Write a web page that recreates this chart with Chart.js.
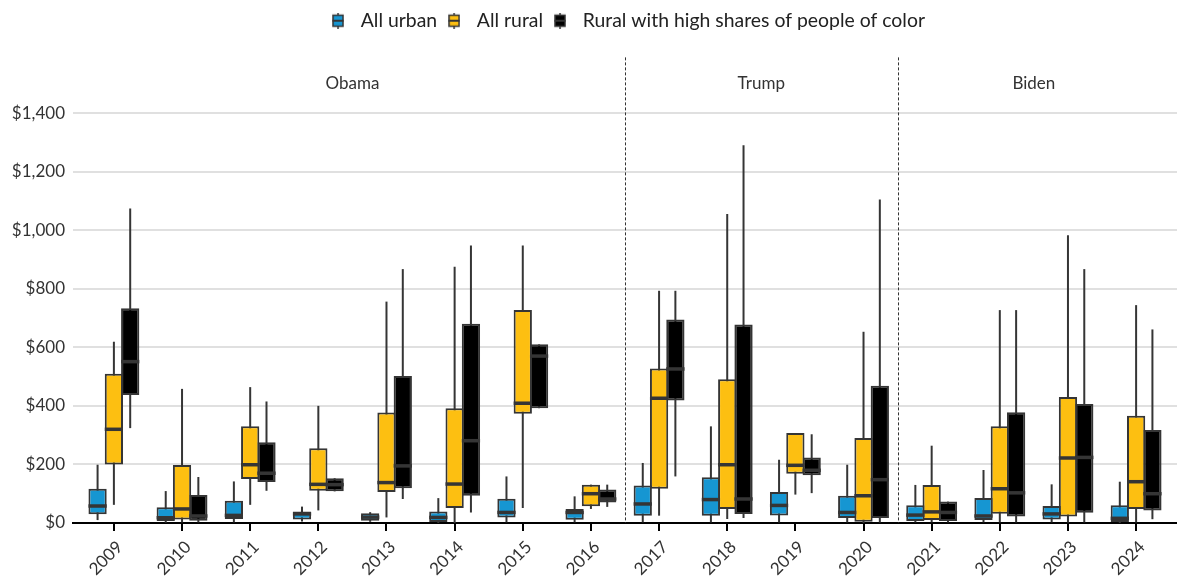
<!DOCTYPE html>
<html>
<head>
<meta charset="utf-8">
<script src="https://cdn.jsdelivr.net/npm/chart.js@4.4.1/dist/chart.umd.min.js"></script>
<style>
  html, body { margin: 0; padding: 0; background: #ffffff; }
  #wrap { width: 1177px; height: 581px; position: relative; }
</style>
</head>
<body>
<div id="wrap"><canvas id="chart"></canvas></div>
<script>
// Fiscal years on the x axis
const years = ['2009','2010','2011','2012','2013','2014','2015','2016',
               '2017','2018','2019','2020','2021','2022','2023','2024'];

const seriesNames = ['All urban', 'All rural', 'Rural with high shares of people of color'];

// Box-plot statistics per year (dollars)
const urbanMin = [10, 1, 2, 5, 4, 0, 2, 2, 2, 2, 2, 2, 2, 2, 2, 0];
const urbanQ1  = [30, 7, 14, 12, 8, 3, 19, 11, 25, 25, 26, 17, 7, 10, 12, 3];
const urbanMed = [58, 18, 26, 31, 20, 19, 36, 36, 65, 80, 60, 36, 27, 24, 31, 16];
const urbanQ3  = [117, 54, 76, 39, 33, 39, 83, 48, 128, 156, 106, 93, 61, 85, 58, 61];
const urbanMax = [199, 109, 142, 56, 37, 85, 159, 91, 205, 330, 216, 199, 130, 181, 132, 141];

const ruralMin = [62, 2, 62, 43, 19, 0, 51, 48, 25, 14, 97, 0, 2, 2, 2, 2];
const ruralQ1  = [200, 12, 150, 110, 106, 51, 373, 57, 117, 48, 168, 4, 10, 32, 22, 48];
const ruralMed = [320, 48, 199, 132, 138, 133, 409, 100, 426, 199, 197, 93, 38, 117, 222, 141];
const ruralQ3  = [510, 198, 330, 255, 377, 392, 727, 131, 528, 491, 307, 290, 130, 330, 430, 366];
const ruralMax = [619, 458, 464, 400, 756, 875, 948, 131, 793, 1055, 307, 653, 264, 727, 983, 744];

const pocMin = [324, 2, 110, 108, 82, 36, 392, 55, 159, 17, 102, 2, 2, 2, 2, 13];
const pocQ1  = [437, 8, 140, 108, 119, 93, 392, 70, 418, 31, 163, 17, 7, 22, 35, 43];
const pocMed = [551, 24, 170, 131, 195, 281, 570, 82, 526, 82, 180, 148, 36, 103, 224, 100];
const pocQ3  = [733, 96, 276, 153, 502, 680, 610, 114, 695, 678, 224, 469, 73, 378, 406, 318];
const pocMax = [1074, 157, 415, 153, 867, 948, 610, 131, 793, 1290, 303, 1105, 73, 727, 867, 661];

const yTicks = [0, 200, 400, 600, 800, 1000, 1200, 1400];

// Administration labels and the boundaries between them (in year-index units)
const eraNames   = ['Obama', 'Trump', 'Biden'];
const eraCenters = [3.5, 9.5, 13.5];
const eraBreaks  = [7.5, 11.5];

const stats = [
  { min: urbanMin, q1: urbanQ1, med: urbanMed, q3: urbanQ3, max: urbanMax },
  { min: ruralMin, q1: ruralQ1, med: ruralMed, q3: ruralQ3, max: ruralMax },
  { min: pocMin,   q1: pocQ1,   med: pocMed,   q3: pocQ3,   max: pocMax }
];
const fills = ['#1696d2', '#fdbf11', '#000000'];
const ink = '#353535';
const FONT = 'Lato, "Open Sans", sans-serif';

// Small box-and-whisker glyph used as the legend key
function makeKey(fill) {
  const c = document.createElement('canvas');
  c.width = 12; c.height = 16;
  const g = c.getContext('2d');
  g.strokeStyle = ink; g.lineWidth = 1.5;
  g.beginPath(); g.moveTo(6, 0); g.lineTo(6, 16); g.stroke();
  g.fillStyle = fill; g.fillRect(1, 2.5, 10, 11);
  g.strokeRect(1, 2.5, 10, 11);
  g.lineWidth = 2;
  g.beginPath(); g.moveTo(0.5, 8); g.lineTo(11.5, 8); g.stroke();
  return c;
}
const keys = fills.map(makeKey);

const boxParts = {
  id: 'boxParts',
  beforeDatasetsDraw(chart) {
    const { ctx, chartArea } = chart;
    const xs = chart.scales.x, ys = chart.scales.y;
    ctx.save();
    // administration dividers
    ctx.strokeStyle = '#333333';
    ctx.lineWidth = 1;
    ctx.setLineDash([3, 2]);
    eraBreaks.forEach(b => {
      const px = Math.round(xs.getPixelForValue(b)) + 0.5;
      ctx.beginPath();
      ctx.moveTo(px, ys.getPixelForValue(1590));
      ctx.lineTo(px, chartArea.bottom);
      ctx.stroke();
    });
    ctx.setLineDash([]);
    ctx.fillStyle = '#333333';
    ctx.font = '17px ' + FONT;
    ctx.textAlign = 'center';
    ctx.textBaseline = 'middle';
    eraNames.forEach((n, i) => {
      ctx.fillText(n, xs.getPixelForValue(eraCenters[i]), ys.getPixelForValue(1500));
    });
    // whiskers
    ctx.strokeStyle = ink;
    ctx.lineWidth = 2;
    chart.data.datasets.forEach((ds, di) => {
      const meta = chart.getDatasetMeta(di);
      meta.data.forEach((bar, i) => {
        ctx.beginPath();
        ctx.moveTo(bar.x, ys.getPixelForValue(stats[di].max[i]));
        ctx.lineTo(bar.x, ys.getPixelForValue(stats[di].min[i]));
        ctx.stroke();
      });
    });
    ctx.restore();
  },
  afterDatasetsDraw(chart) {
    const { ctx } = chart;
    const ys = chart.scales.y;
    ctx.save();
    ctx.strokeStyle = ink;
    ctx.lineWidth = 3.5;
    chart.data.datasets.forEach((ds, di) => {
      const meta = chart.getDatasetMeta(di);
      meta.data.forEach((bar, i) => {
        const py = ys.getPixelForValue(stats[di].med[i]);
        ctx.beginPath();
        ctx.moveTo(bar.x - bar.width / 2, py);
        ctx.lineTo(bar.x + bar.width / 2, py);
        ctx.stroke();
      });
    });
    ctx.restore();
  }
};

const datasets = seriesNames.map((name, di) => ({
  label: name,
  data: years.map((y, i) => ({ x: i, y: [stats[di].q1[i], stats[di].q3[i]] })),
  backgroundColor: fills[di],
  borderColor: ink,
  borderWidth: 2,
  borderSkipped: false,
  categoryPercentage: 0.718,
  barPercentage: 1.12
}));

new Chart(document.getElementById('chart'), {
  type: 'bar',
  data: { datasets },
  plugins: [boxParts],
  options: {
    responsive: true,
    maintainAspectRatio: false,
    animation: false,
    layout: { padding: { top: 7, left: 0, right: 0, bottom: 0 } },
    scales: {
      x: {
        type: 'linear',
        min: -0.6,
        max: 15.6,
        offset: false,
        afterBuildTicks: s => { s.ticks = years.map((_, i) => ({ value: i })); },
        afterFit: s => { s.height = 58; },
        ticks: {
          callback: v => years[v],
          autoSkip: false,
          maxRotation: 45,
          minRotation: 45,
          color: '#333333',
          padding: 6,
          labelOffset: 6,
          font: { family: FONT, size: 17 }
        },
        grid: { drawOnChartArea: false, drawTicks: true, tickLength: 8, tickColor: '#000000', lineWidth: 2, offset: false },
        border: { display: true, color: '#000000', width: 2 }
      },
      y: {
        min: 0,
        max: 1648,
        bounds: 'data',
        afterBuildTicks: s => { s.ticks = yTicks.map(v => ({ value: v })); },
        afterFit: s => { s.width = 73; },
        ticks: {
          callback: v => '$' + v.toLocaleString('en-US'),
          color: '#333333',
          padding: 8,
          font: { family: FONT, size: 17 }
        },
        grid: { color: '#e0e0e0', lineWidth: 2, drawTicks: false },
        border: { display: false }
      }
    },
    plugins: {
      tooltip: { enabled: false },
      legend: {
        position: 'top',
        align: 'center',
        fullSize: false,
        labels: {
          usePointStyle: true,
          pointStyleWidth: 26,
          padding: 4,
          color: '#222222',
          font: { family: FONT, size: 19.4 },
          generateLabels: chart => chart.data.datasets.map((ds, i) => ({
            text: ds.label,
            pointStyle: keys[i],
            fillStyle: fills[i],
            strokeStyle: ink,
            lineWidth: 0,
            hidden: false,
            datasetIndex: i,
            fontColor: '#222222'
          }))
        }
      }
    }
  }
});
</script>
</body>
</html>
